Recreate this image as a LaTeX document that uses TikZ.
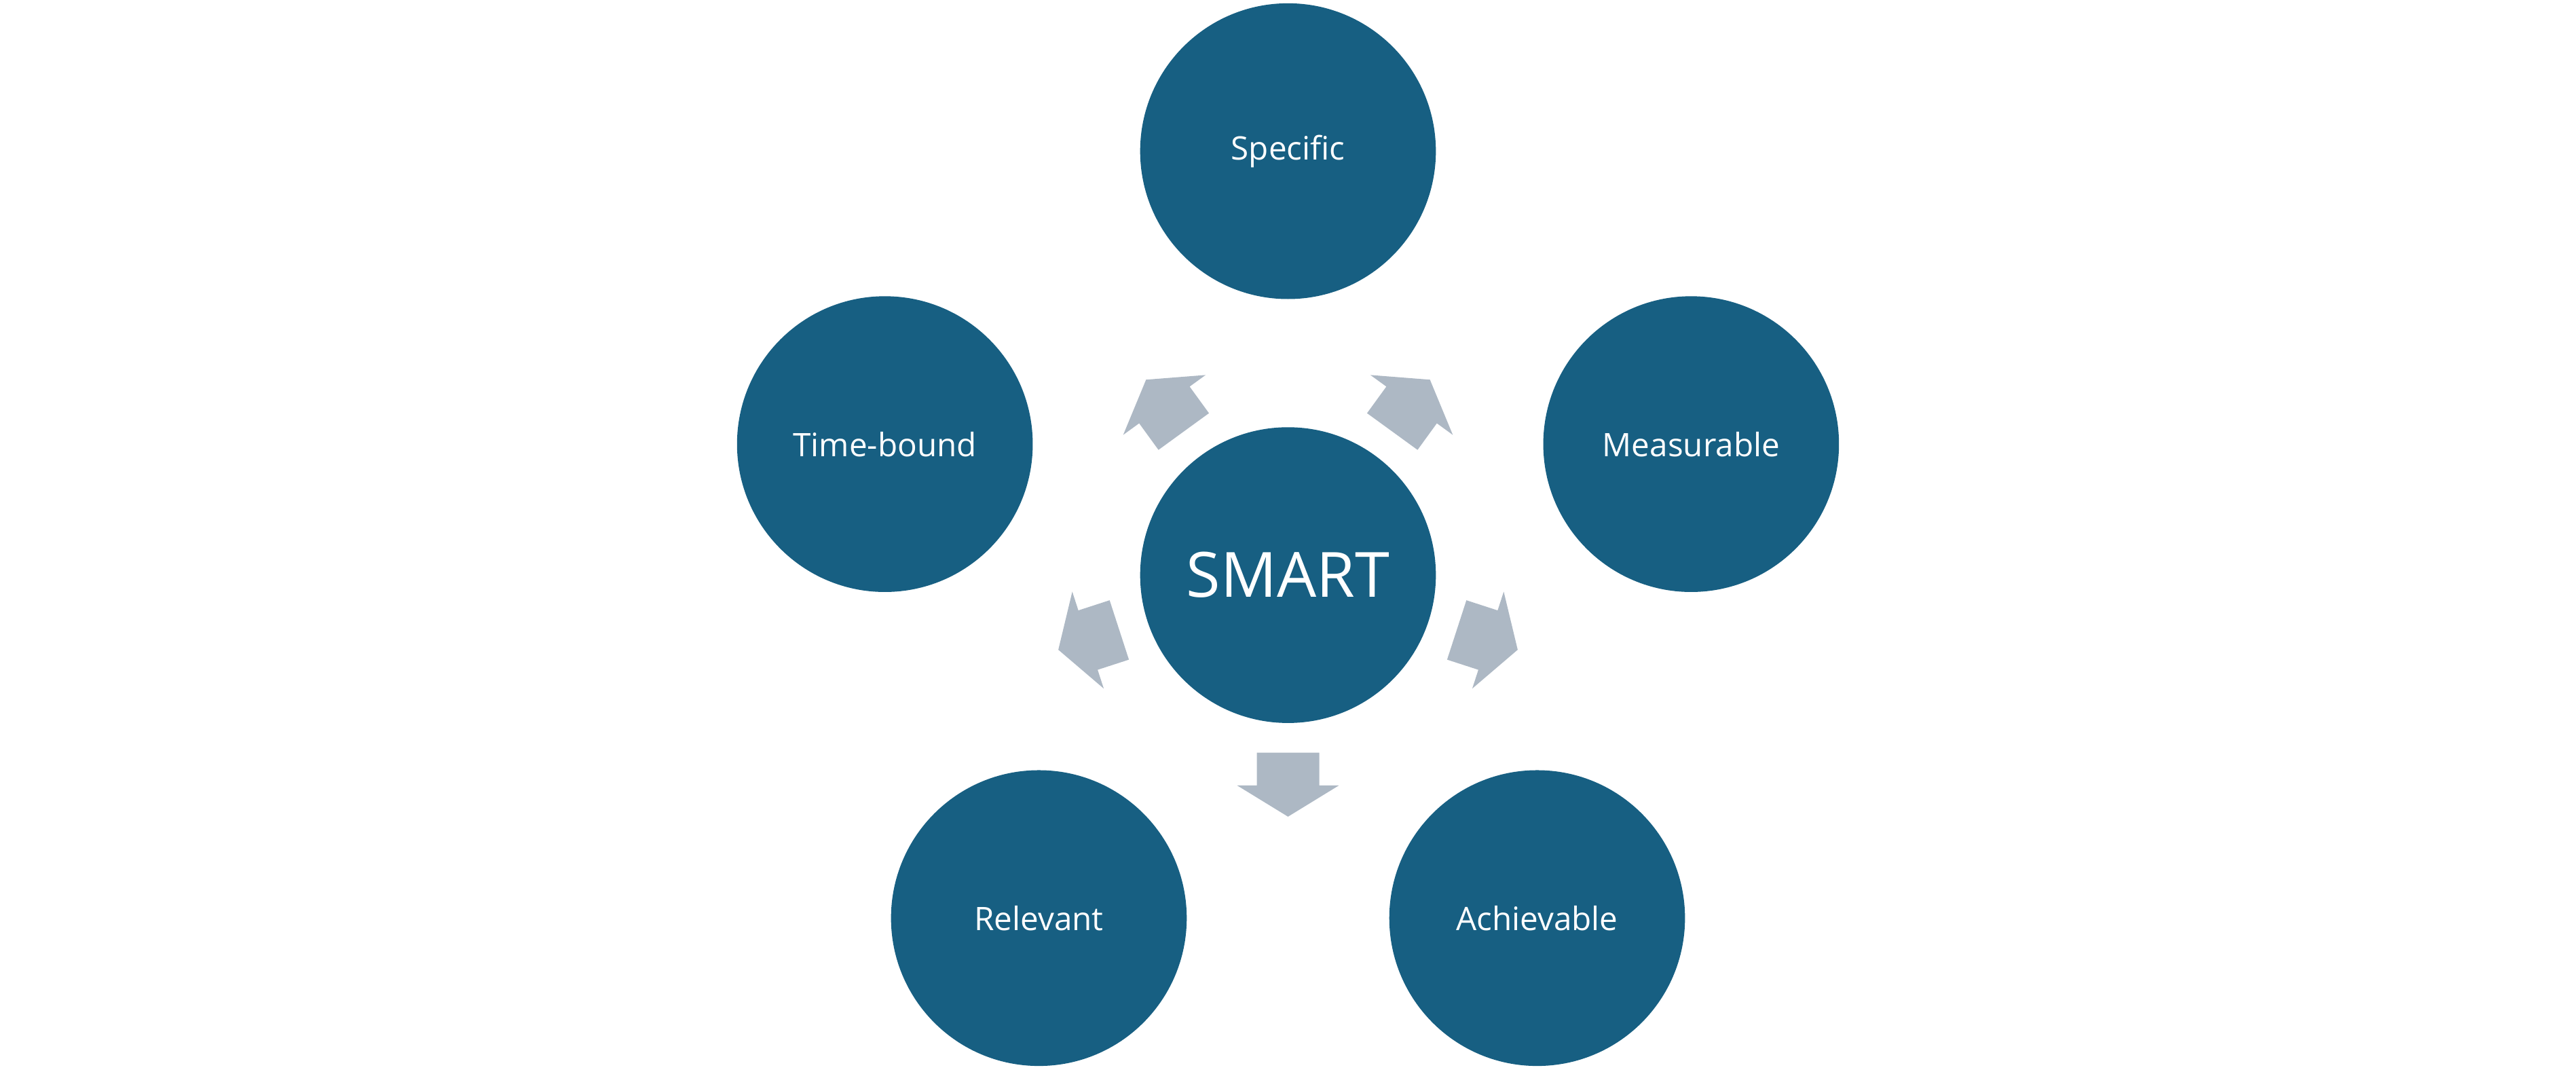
\documentclass[tikz,border=0pt]{standalone}
\usetikzlibrary{calc}
\usepackage{fontspec}
\setmainfont{Open Sans}
\definecolor{circ}{HTML}{175F82}
\definecolor{arr}{HTML}{ADB8C4}
\begin{document}
\begin{tikzpicture}[x=0.025cm,y=-0.025cm,
  bubble/.style={circle,fill=circ,minimum size=180*0.025cm,inner sep=0pt,text=white,font=\fontsize{14}{16}\selectfont},
  blockarrow/.style={fill=arr}]
\useasboundingbox (0,0) rectangle (1568,652);
\node[bubble,font=\fontsize{27}{30}\selectfont] (c) at (784,350) {SMART};
\foreach \name/\txt/\ang in {s/Specific/90,m/Measurable/18,a/Achievable/-54,r/Relevant/-126,t/Time-bound/162}{
  \node[bubble] (\name) at ($(c)+(-\ang:258)$) {\txt};
}
\foreach \ang in {90,18,-54,-126,162}{
  \begin{scope}[shift={(c)},rotate=-\ang]
    \fill[blockarrow] (108,-19) -- (128,-19) -- (128,-31) -- (147,0) -- (128,31) -- (128,19) -- (108,19) -- cycle;
  \end{scope}
}
\end{tikzpicture}
\end{document}
